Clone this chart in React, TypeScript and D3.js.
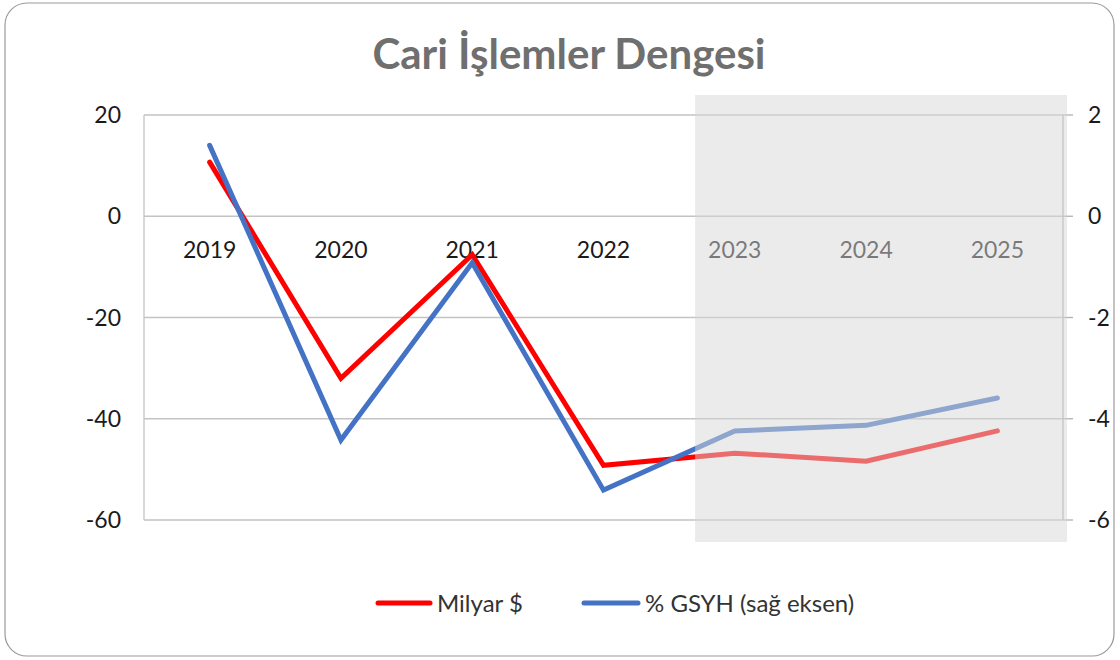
import * as d3 from 'd3'

const years = ['2019', '2020', '2021', '2022', '2023', '2024', '2025']
const milyarUsd = [10.7, -32.0, -7.6, -49.2, -46.8, -48.4, -42.4]
const gsyhPct = [1.4, -4.42, -0.92, -5.41, -4.24, -4.13, -3.59]
const leftTicks = [20, 0, -20, -40, -60]
const rightTicks = [2, 0, -2, -4, -6]
const forecastStart = '2023'

const W = 1120
const H = 660
const FONT = 'Lato, "Liberation Sans", sans-serif'

export default function App() {
  const x = d3.scalePoint<string>().domain(years).range([144, 1063]).padding(0.5)
  const yL = d3.scaleLinear().domain([-60, 20]).range([520, 115])
  const yR = d3.scaleLinear().domain([-6, 2]).range([520, 115])

  const lineL = d3.line<number>().x((_, i) => x(years[i])!).y(d => yL(d))
  const lineR = d3.line<number>().x((_, i) => x(years[i])!).y(d => yR(d))

  const step = x.step()
  const shadeX = x(forecastStart)! - step / 2 + 26

  return (
    <svg width={W} height={H} style={{ position: 'absolute', left: 0, top: 0, background: '#fff' }}>
      <rect x={5} y={3} width={1109} height={653} rx={22} fill="#fff" stroke="#9a9a9a" strokeWidth={1.2} />
      <text x={569} y={69} textAnchor="middle" fontFamily={FONT} fontWeight="bold" fontSize={42} fill="#6f6f6f">
        Cari İşlemler Dengesi
      </text>

      {/* grid */}
      {leftTicks.map(t => (
        <line key={t} x1={144} x2={1063} y1={yL(t)} y2={yL(t)} stroke="#c3c3c3" strokeWidth={1.3} />
      ))}
      <line x1={144} x2={144} y1={115} y2={520} stroke="#c3c3c3" strokeWidth={1.3} />
      <line x1={1063} x2={1063} y1={115} y2={520} stroke="#b0b0b0" strokeWidth={1.3} />
      {rightTicks.map(t => (
        <line key={t} x1={1063} x2={1073} y1={yR(t)} y2={yR(t)} stroke="#b0b0b0" strokeWidth={1.3} />
      ))}

      {leftTicks.map(t => (
        <text key={t} x={121} y={yL(t) + 8} textAnchor="end" fontFamily={FONT} fontSize={23} fill="#1a1a1a">
          {t}
        </text>
      ))}
      {rightTicks.map(t => (
        <text key={t} x={1088} y={yR(t) + 8} fontFamily={FONT} fontSize={23} fill="#1a1a1a">
          {t}
        </text>
      ))}

      {years.map(yr => (
        <text key={yr} x={x(yr)} y={258} textAnchor="middle" fontFamily={FONT} fontSize={23} fill="#1a1a1a">
          {yr}
        </text>
      ))}

      <path d={lineL(milyarUsd) || ''} fill="none" stroke="#ff0000" strokeWidth={5} strokeLinecap="round" />
      <path d={lineR(gsyhPct) || ''} fill="none" stroke="#4472c4" strokeWidth={5} strokeLinecap="round" />

      {/* forecast shade */}
      <rect x={shadeX} y={95} width={1067 - shadeX} height={447} fill="#d7d7d7" fillOpacity={0.5} />

      {/* legend */}
      <line x1={378} x2={430} y1={603} y2={603} stroke="#ff0000" strokeWidth={5} strokeLinecap="round" />
      <text x={437} y={612} fontFamily={FONT} fontSize={24} fill="#333">Milyar $</text>
      <line x1={584} x2={638} y1={603} y2={603} stroke="#4472c4" strokeWidth={5} strokeLinecap="round" />
      <text x={645} y={612} fontFamily={FONT} fontSize={24} fill="#333">% GSYH (sağ eksen)</text>
    </svg>
  )
}
